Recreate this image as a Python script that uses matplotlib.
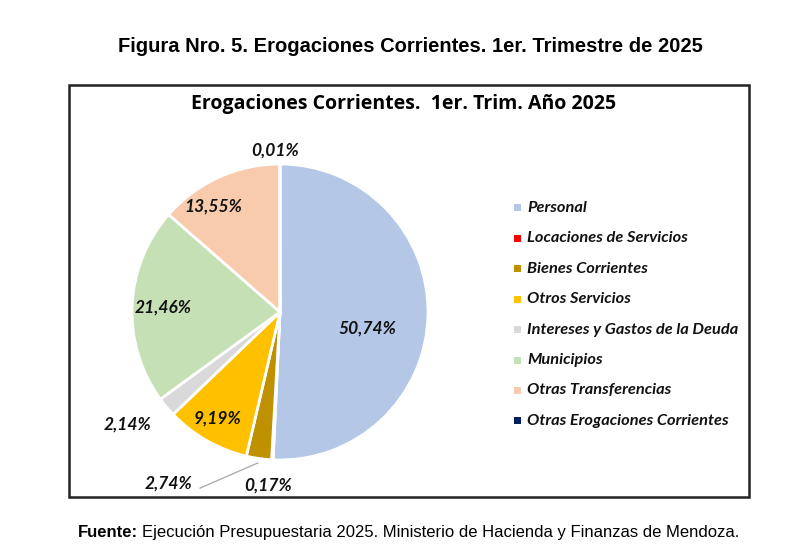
import matplotlib
matplotlib.use("Agg")
import matplotlib.pyplot as plt
from matplotlib.patches import Rectangle

categories = ["Personal", "Locaciones de Servicios", "Bienes Corrientes", "Otros Servicios",
              "Intereses y Gastos de la Deuda", "Municipios", "Otras Transferencias",
              "Otras Erogaciones Corrientes"]
values = [50.74, 0.17, 2.74, 9.19, 2.14, 21.46, 13.55, 0.01]
colors = ["#B4C7E7", "#FF0000", "#BF9000", "#FFC000", "#D9D9D9", "#C5E0B4", "#F8CBAD", "#002060"]
labels_txt = [f"{v:.2f}".replace(".", ",") + "%" for v in values]

# label positions in pie-axes units (layout)
label_pos = [(0.59, -0.11), (-0.08, -1.17), (-0.75, -1.16), (-0.42, -0.72),
             (-1.03, -0.76), (-0.79, 0.03), (-0.45, 0.71), (-0.03, 1.09)]

W, H = 790, 557
fig = plt.figure(figsize=(W / 100, H / 100), dpi=100)

def fx(px):
    return px / W

def fy(py):
    return 1 - py / H

# outer chart box
fig.patches.append(Rectangle((fx(69), fy(497)), fx(749) - fx(69), fy(85) - fy(497),
                             transform=fig.transFigure, fill=False, edgecolor="#222222",
                             linewidth=1.8, zorder=5))

# figure title
fig.text(fx(410), fy(47), "Figura Nro. 5. Erogaciones Corrientes. 1er. Trimestre de 2025",
         ha="center", va="center", fontsize=14.5, fontweight="bold", family="Liberation Sans")

# chart title
fig.text(fx(404), fy(104), "Erogaciones Corrientes.  1er. Trim. Año 2025",
         ha="center", va="center", fontsize=14, fontweight="bold", family="Open Sans")

# footer
t1 = fig.text(fx(78), fy(537), "Fuente:", ha="left", va="baseline", fontsize=12,
              fontweight="bold", family="Liberation Sans")
fig.canvas.draw()
bb = t1.get_window_extent()
fig.text(bb.x1 / W + 4 / W, fy(537),
         "Ejecución Presupuestaria 2025. Ministerio de Hacienda y Finanzas de Mendoza.",
         ha="left", va="baseline", fontsize=12, family="Liberation Sans")

# pie axes
cx, cy, r = 280, 312, 148
ax = fig.add_axes([fx(cx - r), fy(cy + r), (2 * r) / W, (2 * r) / H])
wedges, _ = ax.pie(values, colors=colors, startangle=90, counterclock=False,
                   wedgeprops=dict(edgecolor="white", linewidth=2), radius=1.0)
ax.set_xlim(-1, 1)
ax.set_ylim(-1, 1)
ax.set_aspect("equal")
ax.axis("off")

for txt, (x, y) in zip(labels_txt, label_pos):
    ax.text(x, y, txt, ha="center", va="center", fontsize=12.5, fontweight="bold",
            fontstyle="italic", family="Lato", color="#111111", clip_on=False)

# leader line for Bienes Corrientes label
ax.plot([-0.54, -0.15], [-1.19, -1.02], color="#A6A6A6", linewidth=0.9, clip_on=False)

# legend
leg_y0, leg_dy = 208, 30.4
for i, (cat, col) in enumerate(zip(categories, colors)):
    py = leg_y0 + i * leg_dy
    fig.patches.append(Rectangle((fx(514), fy(py + 3.5)), 7 / W, 7 / H,
                                 transform=fig.transFigure, facecolor=col, edgecolor="none"))
    fig.text(fx(527), fy(py), cat, ha="left", va="center", fontsize=11.8,
             fontweight="bold", fontstyle="italic", family="Lato", color="#111111")

fig.savefig("out.png", dpi=100)
